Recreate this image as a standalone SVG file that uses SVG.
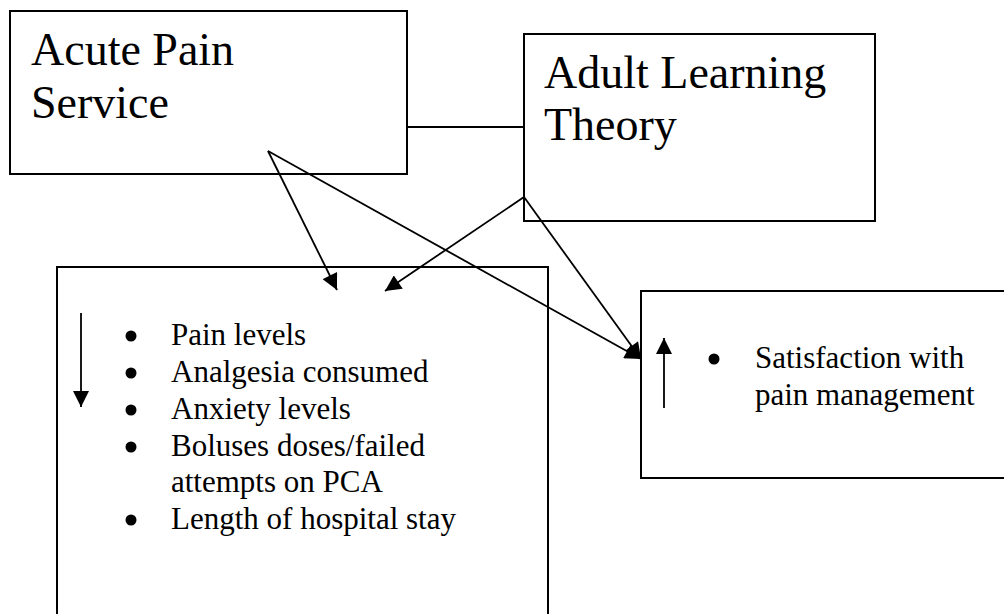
<svg xmlns="http://www.w3.org/2000/svg" width="1004" height="614" viewBox="0 0 1004 614">
<style>
.box{fill:#fff;stroke:#000;stroke-width:2}
.big{font-family:"Liberation Serif","Times New Roman",serif;font-size:46px;fill:#000}
.txt{font-family:"Liberation Serif","Times New Roman",serif;font-size:31px;fill:#000}
.ln{stroke:#000;stroke-width:1.8;fill:none}
.dot{fill:#000}
</style>
<defs>
<marker id="ah" viewBox="0 0 10 10" refX="10" refY="5" markerWidth="17" markerHeight="16" markerUnits="userSpaceOnUse" orient="auto">
<path d="M0,0 L10,5 L0,10 z" fill="#000"/>
</marker>
</defs>
<g id="aps">
<rect class="box" x="10" y="11" width="397" height="163"/>
<text class="big" x="31" y="65">Acute Pain</text>
<text class="big" x="31" y="118">Service</text>
</g>
<g id="alt">
<rect class="box" x="524" y="34" width="351" height="187"/>
<text class="big" x="544" y="88">Adult Learning</text>
<text class="big" x="544" y="140">Theory</text>
</g>
<g id="outcomes-down">
<rect class="box" x="57" y="267" width="491" height="360"/>
<line class="ln" x1="81" y1="313" x2="81" y2="407" marker-end="url(#ah)"/>
<circle class="dot" cx="131" cy="336" r="5.5"/>
<text class="txt" x="171" y="345">Pain levels</text>
<circle class="dot" cx="131" cy="373" r="5.5"/>
<text class="txt" x="171" y="382">Analgesia consumed</text>
<circle class="dot" cx="131" cy="410" r="5.5"/>
<text class="txt" x="171" y="419">Anxiety levels</text>
<circle class="dot" cx="131" cy="447" r="5.5"/>
<text class="txt" x="171" y="456">Boluses doses/failed</text>
<text class="txt" x="171" y="492">attempts on PCA</text>
<circle class="dot" cx="131" cy="520" r="5.5"/>
<text class="txt" x="171" y="529">Length of hospital stay</text>
</g>
<g id="outcomes-up">
<rect class="box" x="641" y="291" width="380" height="187"/>
<line class="ln" x1="664" y1="408" x2="664" y2="338" marker-end="url(#ah)"/>
<circle class="dot" cx="714" cy="359" r="5.5"/>
<text class="txt" x="755" y="368">Satisfaction with</text>
<text class="txt" x="755" y="405">pain management</text>
</g>
<g id="connectors">
<line class="ln" x1="407" y1="127" x2="524" y2="127"/>
<line class="ln" x1="268" y1="151" x2="337" y2="290" marker-end="url(#ah)"/>
<line class="ln" x1="268" y1="151" x2="641" y2="359" marker-end="url(#ah)"/>
<line class="ln" x1="524" y1="197" x2="385" y2="291" marker-end="url(#ah)"/>
<line class="ln" x1="524" y1="197" x2="641" y2="359" marker-end="url(#ah)"/>
</g>
</svg>
